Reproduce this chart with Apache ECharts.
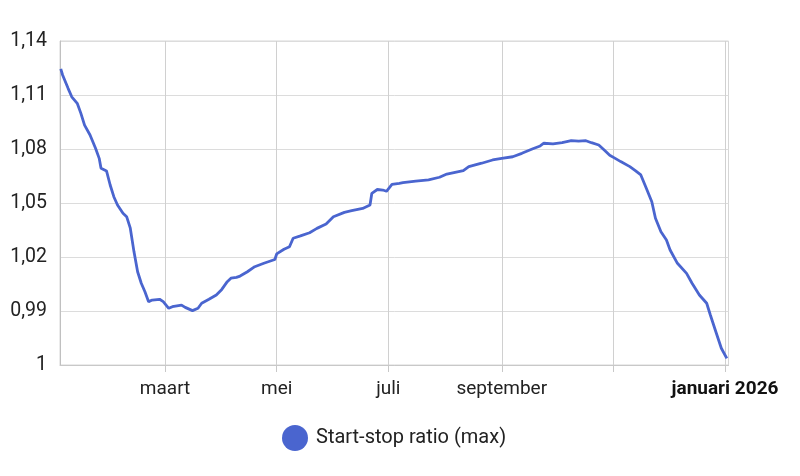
<!DOCTYPE html>
<html>
<head>
<meta charset="utf-8">
<script src="https://cdn.jsdelivr.net/npm/echarts@6/dist/echarts.min.js"></script>
<style>
html,body{margin:0;padding:0;background:#fff;}
#chart{width:800px;height:476px;}
</style>
</head>
<body>
<div id="chart"></div>
<script>
var seriesName = 'Start-stop ratio (max)';
var dates = [
 '2025-01-03','2025-01-04','2025-01-07','2025-01-09','2025-01-12','2025-01-14','2025-01-16','2025-01-19',
 '2025-01-22','2025-01-24','2025-01-25','2025-01-28','2025-01-30','2025-02-01','2025-02-03','2025-02-06',
 '2025-02-08','2025-02-10','2025-02-12','2025-02-14','2025-02-16','2025-02-18','2025-02-20','2025-02-22',
 '2025-02-26','2025-02-28','2025-03-03','2025-03-05','2025-03-10','2025-03-12','2025-03-16','2025-03-19',
 '2025-03-21','2025-03-25','2025-03-29','2025-04-01','2025-04-04','2025-04-06','2025-04-09',
 '2025-04-11','2025-04-15','2025-04-19','2025-04-24','2025-04-28','2025-04-30','2025-05-01','2025-05-05',
 '2025-05-08','2025-05-10','2025-05-14','2025-05-19','2025-05-23','2025-05-28','2025-06-01','2025-06-07',
 '2025-06-11','2025-06-17','2025-06-21','2025-06-22','2025-06-25','2025-06-28','2025-06-30','2025-07-03',
 '2025-07-07','2025-07-09','2025-07-16','2025-07-23','2025-07-29','2025-08-02','2025-08-11',
 '2025-08-14','2025-08-21','2025-08-27','2025-09-01','2025-09-07','2025-09-12','2025-09-18','2025-09-22',
 '2025-09-24','2025-09-29','2025-10-04','2025-10-09','2025-10-13','2025-10-17','2025-10-20','2025-10-24',
 '2025-10-27','2025-10-30','2025-11-02','2025-11-05','2025-11-10','2025-11-13','2025-11-16','2025-11-19',
 '2025-11-22','2025-11-24','2025-11-27','2025-11-30','2025-12-02','2025-12-06','2025-12-11','2025-12-14',
 '2025-12-18','2025-12-22','2025-12-24','2025-12-27','2025-12-30','2026-01-02'
];
var values = [
 1.1245,1.1211,1.1137,1.1090,1.1054,1.0998,1.0933,1.0878,
 1.0804,1.0748,1.0693,1.0678,1.0600,1.0535,1.0489,1.0443,
 1.0424,1.0360,1.0230,1.0118,1.0054,1.0007,0.9952,0.9961,
 0.9965,0.9952,0.9915,0.9924,0.9933,0.9920,0.9902,0.9915,
 0.9943,0.9965,0.9989,1.0020,1.0063,1.0082,1.0087,
 1.0094,1.0118,1.0146,1.0165,1.0179,1.0186,1.0217,1.0243,
 1.0257,1.0304,1.0317,1.0335,1.0359,1.0383,1.0424,1.0448,
 1.0457,1.0470,1.0489,1.0554,1.0575,1.0572,1.0565,1.0603,
 1.0609,1.0613,1.0622,1.0628,1.0643,1.0661,1.0680,
 1.0702,1.0721,1.0739,1.0748,1.0757,1.0776,1.0801,1.0817,
 1.0832,1.0828,1.0835,1.0846,1.0844,1.0846,1.0835,1.0822,
 1.0794,1.0765,1.0748,1.0730,1.0702,1.0680,1.0656,1.0582,
 1.0507,1.0415,1.0340,1.0294,1.0239,1.0165,1.0109,1.0054,
 0.9989,0.9943,0.9878,0.9785,0.9693,0.9637
];
var xTickDates = ['2025-03-01','2025-05-01','2025-07-01','2025-09-01','2025-11-01','2026-01-01'];
var xTickLabels = ['maart','mei','juli','september','','januari 2026'];
var xRange = ['2025-01-02 14:00','2026-01-02 22:00'];
var yTickLabels = ['1','0,99','1,02','1,05','1,08','1,11','1,14'];
var yMin = 0.96, yMax = 1.14, yStep = 0.03;

var lineColor = '#4a65cf';
function ts(s){ return echarts.time.parse(s).getTime(); }
var data = dates.map(function(d, i){ return [ts(d), values[i]]; });
var tickTs = xTickDates.map(ts);
var labelMap = {};
tickTs.forEach(function(t, i){ labelMap[t] = xTickLabels[i]; });

var chart = echarts.init(document.getElementById('chart'));
chart.setOption({
  animation: false,
  grid: { left: 60, right: 71.5, top: 41, bottom: 111, show: true, borderColor: '#d6d6d6', borderWidth: 1 },
  legend: {
    left: 282, top: 425, padding: 0,
    itemWidth: 26, itemHeight: 26, itemGap: 10,
    icon: 'circle',
    textStyle: { fontFamily: 'Roboto', fontSize: 20, color: '#222', padding: [0, 0, 0, 3] },
    data: [seriesName]
  },
  xAxis: {
    type: 'value',
    min: ts(xRange[0]),
    max: ts(xRange[1]),
    axisLine: { show: true, lineStyle: { color: '#c8c8c8', width: 1 } },
    axisTick: { show: true, length: 7, customValues: tickTs, lineStyle: { color: '#c8c8c8' } },
    splitLine: { show: true, lineStyle: { color: '#d0d0d0', width: 1 } },
    axisLabel: {
      customValues: tickTs,
      margin: 15,
      fontFamily: 'Roboto', fontSize: 19, color: '#222',
      formatter: function(v){
        var t = labelMap[v];
        if (t === undefined) return '';
        if (t.indexOf('2026') >= 0) return '{b|' + t + '}';
        return t;
      },
      rich: { b: { fontFamily: 'Roboto', fontSize: 19, fontWeight: 'bold', color: '#111' } }
    }
  },
  yAxis: {
    type: 'value',
    min: yMin, max: yMax, interval: yStep,
    axisLine: { show: true, lineStyle: { color: '#c0c0c0' } },
    axisTick: { show: false },
    splitLine: { show: true, lineStyle: { color: '#dcdcdc', width: 1 } },
    axisLabel: {
      margin: 13,
      fontFamily: 'Roboto', fontSize: 19.5, color: '#222',
      formatter: function(v){ return yTickLabels[Math.round((v - yMin) / yStep)]; }
    }
  },
  series: [{
    name: seriesName,
    type: 'line',
    data: data,
    showSymbol: false,
    symbol: 'circle',
    itemStyle: { color: lineColor },
    lineStyle: { color: lineColor, width: 2.8 }
  }]
});
</script>
</body>
</html>
